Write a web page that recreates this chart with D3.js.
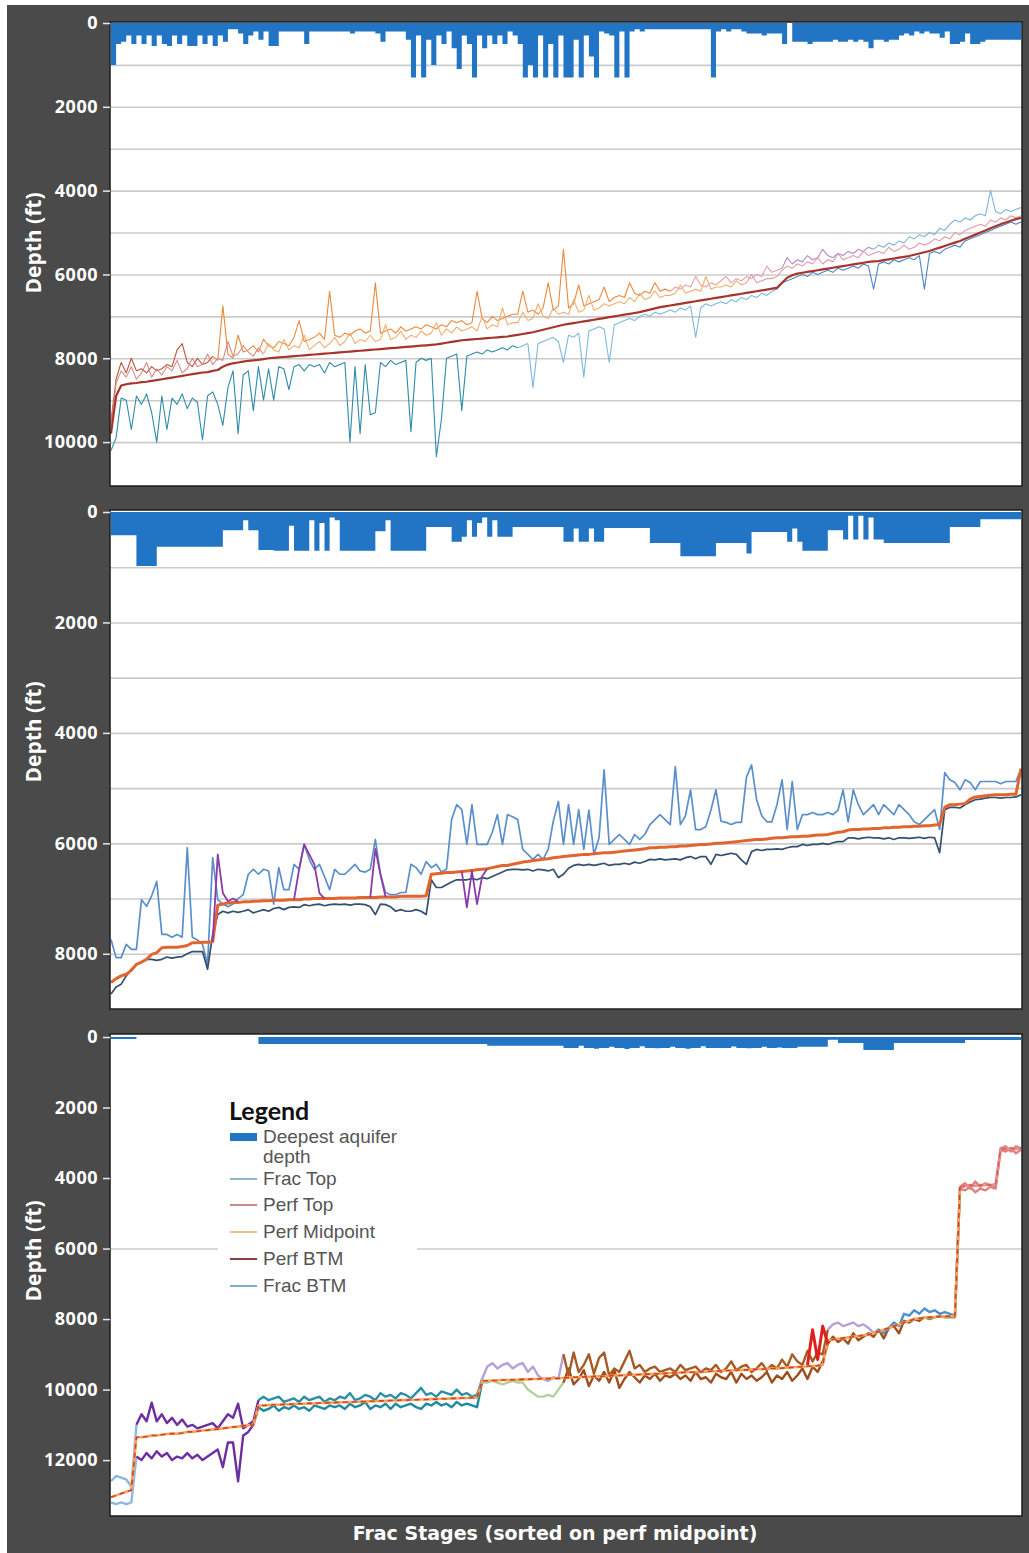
<!DOCTYPE html>
<html>
<head>
<meta charset="utf-8">
<script src="https://cdn.jsdelivr.net/npm/d3@7"></script>
<style>
  body { margin: 0; background: #fff; }
  svg { display: block; }
</style>
</head>
<body>
<div id="chart"></div>
<script>
// ---- panel 1 (top) : depth in ft per frac stage ----
const p1Aquifer = [
  1000, 500, 450, 300, 500, 300, 500, 300, 550, 300,
  500, 550, 300, 500, 300, 550, 550, 300, 500, 300,
  550, 300, 450, 150, 150, 250, 500, 300, 200, 400,
  200, 550, 550, 200, 200, 200, 200, 200, 500, 200,
  200, 200, 200, 200, 200, 200, 200, 250, 200, 200,
  200, 200, 250, 450, 200, 200, 200, 200, 400, 1300,
  300, 1300, 400, 1000, 300, 500, 200, 600, 1100, 300,
  500, 1300, 300, 600, 300, 500, 300, 500, 200, 300,
  500, 1300, 1000, 1300, 300, 1300, 500, 1300, 300, 1300,
  1300, 400, 1300, 300, 800, 1300, 200, 250, 300, 1300,
  200, 1300, 200, 150, 200, 150, 150, 150, 150, 150,
  150, 150, 150, 150, 150, 150, 150, 150, 1300, 200,
  150, 200, 150, 150, 200, 250, 250, 250, 300, 250,
  250, 250, 500, 0, 450, 450, 450, 500, 450, 450,
  450, 450, 400, 450, 450, 400, 450, 400, 450, 600,
  400, 400, 450, 400, 400, 300, 250, 300, 200, 250,
  200, 250, 250, 350, 200, 500, 500, 450, 250, 500,
  500, 450, 400, 400, 400, 400, 400, 400, 400, 3600
];
const p1FracTop = [
  9500, 8500, 8100, 8350, 8000, 8300, 8250, 8350, 8200, 8300,
  8250, 8150, 8200, 7800, 7650, 8100, 8200, 8000, 8150, 8100,
  7950, 8050, 6750, 7900, 8000, 7450, 7850, 7800, 7700, 7850,
  7550, 7700, 7750, 7600, 7650, 7700, 7500, 7100, 7600, 7550,
  7500, 7400, 7550, 6400, 7450, 7500, 7400, 7450, 7350, 7300,
  7400, 7350, 6200, 7400, 7350, 7300, 7400, 7250, 7350, 7300,
  7250, 7300, 7200, 7250, 7300, 7200, 7250, 7100, 7150, 7100,
  7200, 7150, 6400, 7050, 7150, 7000, 7100, 7050, 7000, 6950,
  6950, 6400, 6900, 6850, 6950, 6800, 6200, 6850, 6750, 5400,
  6800, 6700, 6250, 6750, 6700, 6650, 6600, 6300, 6650, 6550,
  6500, 6550, 6200, 6450, 6500, 6400, 6450, 6200, 6400, 6350,
  6400, 6300, 6350, 6250, 6300, 6050, 6250, 6300, 6200, 6250,
  6150, 6050, 6200, 6100, 6150, 6050, 6100, 6000, 6050, 5800,
  5950, 5900, 5850, 5600, 5750, 5650, 5700, 5550, 5650, 5600,
  5400, 5550, 5600, 5500, 5550, 5450, 5500, 5400, 5450, 5350,
  5400, 5300, 5350, 5250, 5300, 5200, 5250, 5100, 5150, 5050,
  5100, 5000, 5050, 4900, 4950, 4800, 4700, 4750, 4650, 4700,
  4600, 4550, 4600, 4000, 4500, 4550, 4450, 4500, 4450, 4400
];
const p1PerfTop = [
  9600, 8600, 8300, 8450, 8200, 8500, 8350, 8100, 8450, 8250,
  8400, 8200, 8300, 8050, 8350, 8250, 8000, 8200, 8150, 7900,
  8150, 8000, 8050, 7600, 7950, 7900, 7700, 7850, 7950, 7750,
  7900, 7650, 7800, 7850, 7550, 7800, 7700, 7750, 7450, 7800,
  7700, 7600, 7750, 7650, 7500, 7700, 7600, 7400, 7650, 7550,
  7600, 7450, 7600, 7550, 7200, 7550, 7500, 7350, 7550, 7450,
  7500, 7350, 7450, 7400, 7150, 7450, 7300, 7400, 7250, 7350,
  7300, 7250, 7350, 7000, 7300, 7200, 7250, 6800, 7200, 7150,
  7150, 6900, 7100, 7050, 6700, 7000, 7050, 6800, 6950, 6900,
  6950, 6600, 6900, 6850, 6500, 6850, 6800, 6700, 6750, 6700,
  6650, 6700, 6550, 6650, 6450, 6600, 6550, 6400, 6550, 6500,
  6500, 6450, 6250, 6450, 6400, 6350, 6400, 6050, 6350, 6300,
  6300, 6250, 6300, 6150, 6250, 6200, 6000, 6200, 6150, 6100,
  6100, 6050, 5900, 5800, 5850, 5750, 5800, 5700, 5750, 5600,
  5750, 5650, 5700, 5500, 5650, 5600, 5550, 5600, 5450, 5550,
  5500, 5450, 5500, 5350, 5450, 5400, 5300, 5400, 5350, 5250,
  5300, 5250, 5150, 5200, 5100, 5150, 5000, 5050, 4950, 4900,
  4850, 4800, 4850, 4700, 4750, 4650, 4700, 4600, 4650, 4600
];
const p1PerfMid = [
  9800, 8900, 8650, 8620, 8600, 8590, 8570, 8560, 8540, 8520,
  8500, 8480, 8460, 8440, 8420, 8400, 8380, 8360, 8340, 8330,
  8300, 8280, 8200, 8150, 8120, 8100, 8080, 8060, 8050, 8040,
  8020, 8000, 7990, 7980, 7970, 7960, 7950, 7940, 7930, 7920,
  7910, 7900, 7890, 7880, 7870, 7860, 7850, 7840, 7830, 7820,
  7810, 7800, 7790, 7780, 7770, 7760, 7750, 7740, 7730, 7720,
  7710, 7700, 7690, 7680, 7670, 7650, 7630, 7610, 7590, 7570,
  7560, 7550, 7540, 7530, 7520, 7510, 7500, 7490, 7480, 7460,
  7440, 7420, 7400, 7380, 7350, 7320, 7290, 7260, 7230, 7200,
  7180, 7160, 7140, 7120, 7100, 7080, 7060, 7040, 7020, 7000,
  6980, 6960, 6940, 6920, 6900, 6870, 6840, 6810, 6780, 6760,
  6740, 6720, 6700, 6680, 6660, 6640, 6620, 6600, 6580, 6560,
  6540, 6520, 6500, 6480, 6460, 6440, 6420, 6400, 6380, 6360,
  6340, 6320, 6200, 6080, 6020, 5980, 5960, 5940, 5920, 5900,
  5880, 5860, 5840, 5820, 5800, 5780, 5760, 5740, 5720, 5700,
  5690, 5680, 5660, 5640, 5620, 5600, 5580, 5560, 5530, 5500,
  5470, 5440, 5400, 5360, 5320, 5280, 5240, 5200, 5150, 5100,
  5050, 5000, 4950, 4900, 4850, 4800, 4760, 4720, 4680, 4650
];
const p1FracBtm = [
  10200, 9900, 8950, 9000, 9700, 8900, 9100, 8850, 9300, 10000,
  8900, 9700, 8950, 9100, 8850, 9200, 8950, 9050, 9950, 8900,
  8800, 9100, 9600, 8700, 8300, 9800, 8400, 8300, 9250, 8200,
  9000, 8250, 9000, 8200, 8250, 8750, 8200, 8150, 8300, 8150,
  8200, 8150, 8350, 8100, 8200, 8150, 8100, 10000, 8200, 9800,
  8150, 9350, 9300, 8100, 8200, 8050, 8150, 8100, 8050, 9750,
  8100, 8000, 8050, 8000, 10350, 9450, 8000, 7950, 7900, 9250,
  7950, 7900, 7850, 7900, 7800, 7850, 7800, 7750, 7800, 7700,
  7750, 7700, 7650, 8700, 7650, 7600, 7550, 7500, 7600, 8100,
  7450, 7500, 7400, 8450, 7350, 7300, 7250, 7300, 8100, 7200,
  7150, 7100, 7050, 7100, 7000, 6950, 7000, 6900, 6950, 6900,
  6850, 6900, 6800, 6850, 6750, 7500, 6800, 6700, 6750, 6700,
  6650, 6700, 6600, 6650, 6550, 6600, 6500, 6550, 6450, 6500,
  6400, 6350, 6200, 6150, 6100, 6050, 6000, 6050, 5950, 6000,
  5950, 5900, 5950, 5850, 5900, 5850, 5800, 5850, 5750, 5800,
  6350, 5750, 5700, 5750, 5650, 5700, 5650, 5600, 5650, 5550,
  6350, 5500, 5450, 5500, 5400, 5350, 5300, 5350, 5200, 5150,
  5100, 5050, 5000, 4950, 4900, 4850, 4800, 4750, 4800, 4750
];

// ---- panel 2 (middle) ----
const p2Aquifer = [
  420, 420, 420, 420, 420, 980, 980, 980, 980, 630,
  630, 630, 630, 630, 630, 630, 630, 630, 630, 630,
  630, 630, 330, 330, 330, 330, 150, 330, 330, 690,
  690, 690, 700, 700, 700, 250, 700, 700, 700, 150,
  700, 200, 700, 100, 150, 700, 700, 700, 700, 700,
  700, 700, 350, 350, 150, 700, 700, 700, 700, 700,
  700, 700, 270, 270, 270, 270, 270, 540, 540, 450,
  150, 450, 200, 100, 450, 150, 450, 450, 450, 270,
  270, 270, 270, 270, 270, 270, 270, 270, 270, 540,
  540, 300, 540, 540, 300, 540, 540, 290, 290, 290,
  290, 290, 290, 290, 290, 290, 560, 560, 560, 560,
  560, 560, 800, 800, 800, 800, 800, 800, 800, 560,
  560, 560, 560, 560, 560, 750, 360, 360, 360, 360,
  360, 360, 360, 540, 300, 540, 700, 700, 700, 700,
  700, 330, 330, 330, 500, 70, 500, 70, 500, 100,
  500, 500, 560, 560, 560, 560, 560, 560, 560, 560,
  560, 560, 560, 560, 560, 270, 270, 270, 270, 270,
  270, 130, 130, 130, 130, 130, 130, 130, 130, 130
];
const p2FracTop = [
  7740, 8070, 8070, 7830, 7920, 7920, 7020, 7140, 6950, 6690,
  7650, 7650, 7700, 7650, 7700, 6080, 7700, 7750, 7830, 8190,
  6260, 7020, 7100, 7150, 7100, 7000, 6930, 6560, 6470, 6560,
  6470, 6500, 7100, 6440, 6840, 6840, 6380, 6470, 6020, 6290,
  6470, 6380, 6600, 6840, 6470, 6560, 6560, 6470, 6380, 6500,
  6520, 6470, 5930, 6560, 6890, 6930, 6930, 6890, 6890, 6380,
  6440, 6560, 6330, 6440, 6380, 6520, 6470, 5570, 5300, 5390,
  6020, 5300, 6020, 6020, 6020, 5800, 5480, 6020, 5480, 5520,
  5570, 6110, 6200, 6290, 6200, 6290, 6110, 5600, 5240, 6020,
  5300, 6020, 5390, 6110, 5400, 6200, 5900, 4670, 6020, 5930,
  5840, 5930, 6020, 5840, 5930, 5840, 5660, 5570, 5480, 5570,
  5660, 4610, 5660, 5500, 5030, 5750, 5750, 5700, 5400, 5030,
  5600, 5620, 5660, 5620, 5620, 4800, 4580, 5210, 5500, 5610,
  5610, 5300, 4850, 5750, 4880, 5750, 5480, 5480, 5440, 5480,
  5480, 5440, 5480, 5400, 5030, 5610, 5030, 5300, 5480, 5390,
  5300, 5480, 5300, 5390, 5480, 5300, 5390, 5480, 5610, 5660,
  5570, 5480, 5390, 5750, 4720, 4850, 4900, 5030, 4850, 4900,
  5030, 4880, 4880, 4880, 4880, 4920, 4880, 4880, 4880, 4650
];
const p2PerfMid = [
  8520, 8450, 8400, 8370, 8300, 8190, 8150, 8100, 8010, 7980,
  7890, 7880, 7880, 7880, 7870, 7850, 7800, 7800, 7790, 7790,
  7780, 7120, 7100, 7080, 7070, 7070, 7060, 7060, 7050, 7050,
  7040, 7040, 7030, 7030, 7030, 7020, 7020, 7020, 7010, 7010,
  7000, 7000, 7000, 7000, 7000, 6990, 6990, 6990, 6990, 6980,
  6980, 6980, 6980, 6970, 6970, 6970, 6970, 6960, 6960, 6960,
  6960, 6960, 6950, 6560, 6550, 6540, 6530, 6530, 6520, 6510,
  6500, 6490, 6480, 6470, 6460, 6440, 6420, 6400, 6400, 6380,
  6360, 6340, 6330, 6310, 6300, 6290, 6280, 6260, 6250, 6240,
  6230, 6220, 6210, 6200, 6200, 6190, 6180, 6170, 6170, 6160,
  6150, 6140, 6130, 6120, 6110, 6100, 6080, 6080, 6070, 6070,
  6060, 6060, 6050, 6050, 6040, 6030, 6020, 6020, 6010, 6000,
  6000, 5990, 5980, 5970, 5960, 5950, 5940, 5930, 5930, 5920,
  5910, 5900, 5900, 5890, 5880, 5880, 5870, 5870, 5860, 5850,
  5850, 5840, 5820, 5800, 5790, 5760, 5750, 5750, 5740, 5740,
  5730, 5730, 5720, 5720, 5710, 5710, 5700, 5700, 5690, 5690,
  5680, 5680, 5670, 5660, 5350, 5300, 5300, 5290, 5280, 5200,
  5160, 5150, 5140, 5130, 5120, 5120, 5120, 5110, 5110, 4650
];
const p2FracBtm = [
  8730, 8600, 8550, 8400, 8280, 8200, 8150, 8100, 8100, 8120,
  8100, 8060, 8080, 8060, 8050, 8000, 7960, 7960, 7960, 8280,
  7650, 7290, 7230, 7260, 7230, 7250, 7230, 7200, 7260, 7230,
  7200, 7230, 7180, 7160, 7200, 7160, 7150, 7160, 7110, 7130,
  7110, 7100, 7130, 7110, 7100, 7110, 7100, 7120, 7100, 7100,
  7110, 7150, 7290, 7100, 7110, 7150, 7230, 7200, 7230, 7230,
  7200, 7230, 7290, 6660, 6800, 6800, 6750, 6700, 6660, 6660,
  6660, 6640, 6660, 6620, 6640, 6600, 6560, 6520, 6480, 6470,
  6470, 6480, 6470, 6500, 6470, 6480, 6500, 6470, 6620, 6560,
  6450, 6400, 6380, 6400, 6380, 6400, 6380, 6360, 6400, 6380,
  6380, 6360, 6380, 6340, 6360, 6330, 6290, 6300, 6280, 6300,
  6290, 6280, 6300, 6260, 6240, 6280, 6240, 6240, 6380, 6200,
  6220, 6200, 6180, 6200, 6300, 6380, 6150, 6110, 6130, 6110,
  6110, 6100, 6110, 6080, 6060, 6060, 6020, 6040, 6020, 6020,
  6000, 6020, 5990, 5970, 5970, 5900, 5900, 5920, 5900, 5890,
  5900, 5900, 5920, 5900, 5930, 5900, 5900, 5910, 5900, 5890,
  5910, 5890, 5900, 6170, 5390, 5350, 5350, 5360, 5300, 5250,
  5210, 5200, 5180, 5170, 5170, 5180, 5170, 5170, 5160, 5120
];
// perf top only where it parts from the midpoint: [stage, depth]
const p2PerfTop = [
  [[20, 7780], [21, 6200], [22, 6900], [23, 7050], [24, 7000], [25, 7060]],
  [[36, 7020], [37, 6470], [38, 6020], [39, 6200], [40, 6380], [41, 6900], [42, 7000]],
  [[51, 6980], [52, 6100], [53, 6560], [54, 6970]],
  [[69, 6510], [70, 7160], [71, 6500], [72, 7100], [73, 6600], [74, 6460]]
];

// ---- panel 3 (bottom) ----
const p3Aquifer = [
  60, 60, 60, 60, 60, 0, 0, 0, 0, 0,
  0, 0, 0, 0, 0, 0, 0, 0, 0, 0,
  0, 0, 0, 0, 0, 0, 0, 0, 0, 200,
  200, 200, 200, 200, 200, 200, 200, 200, 200, 200,
  200, 200, 200, 200, 200, 200, 200, 200, 200, 200,
  200, 200, 200, 200, 200, 200, 200, 200, 200, 200,
  200, 200, 200, 200, 200, 200, 200, 200, 200, 200,
  200, 200, 200, 200, 250, 250, 250, 250, 250, 250,
  250, 250, 250, 250, 250, 250, 250, 250, 250, 310,
  310, 310, 250, 310, 310, 330, 310, 310, 280, 310,
  310, 340, 310, 310, 260, 310, 310, 320, 310, 310,
  280, 310, 310, 330, 310, 310, 260, 310, 310, 310,
  310, 310, 270, 310, 310, 320, 310, 310, 280, 310,
  310, 300, 310, 310, 310, 280, 280, 280, 280, 280,
  280, 80, 80, 170, 170, 170, 170, 170, 370, 370,
  370, 370, 370, 370, 170, 170, 170, 170, 170, 170,
  170, 170, 170, 170, 170, 170, 170, 170, 85, 85,
  85, 85, 85, 85, 85, 85, 85, 85, 85, 85
];
const p3FracTop = [
  12600, 12450, 12500, 12550, 12750, 11000, 10700, 10900, 10370, 10900,
  10700, 10950, 10800, 11000, 10850, 11050, 11000, 11100, 11050, 11000,
  10950, 11100, 10900, 10700, 10800, 10400, 11100, 11000, 10900, 10300,
  10200, 10300, 10250, 10200, 10350, 10300, 10250, 10350, 10200, 10300,
  10250, 10200, 10350, 10250, 10300, 10200, 10250, 10100, 10300, 10250,
  10150, 10200, 10300, 10100, 10200, 10150, 10250, 10100, 10150, 10250,
  10100, 9950, 10150, 10100, 10200, 10050, 10100, 10150, 10000, 10150,
  10100, 10200, 10150, 9700, 9350, 9250, 9400, 9300, 9250, 9400,
  9300, 9250, 9500, 9350, 9600, 9700, 9750, 9650, 9700, 9000,
  9600, 8950, 9500, 9300, 9000, 9550, 9100, 8950, 9600, 9400,
  9500, 9200, 8900, 9400, 9300, 9500, 9400, 9350, 9500, 9450,
  9400, 9500, 9300, 9450, 9400, 9350, 9500, 9400, 9450, 9300,
  9500, 9400, 9200, 9450, 9350, 9300, 9500, 9400, 9250, 9450,
  9300, 9400, 9150, 9350, 9000, 9200, 9300, 8900, 9200, 8950,
  9000, 8300, 8150, 8100, 8200, 8150, 8100, 8200, 8150, 8250,
  8400, 8300, 8400, 8250, 8100, 8200, 7850, 7900, 7750, 7850,
  7700, 7800, 7750, 7850, 7800, 7850, 7900, 4250, 4150, 4300,
  4100, 4250, 4150, 4200, 4250, 3150, 3100, 3250, 3100, 3150
];
const p3PerfMid = [
  13050, 13000, 12950, 12900, 12850, 11350, 11350, 11330, 11300, 11300,
  11280, 11260, 11250, 11250, 11230, 11200, 11200, 11180, 11160, 11150,
  11130, 11120, 11100, 11080, 11060, 11050, 11030, 11010, 11000, 10450,
  10450, 10440, 10430, 10430, 10420, 10420, 10410, 10400, 10400, 10390,
  10390, 10380, 10380, 10370, 10370, 10360, 10360, 10350, 10350, 10340,
  10340, 10330, 10330, 10320, 10320, 10310, 10310, 10300, 10300, 10290,
  10290, 10280, 10280, 10270, 10270, 10260, 10260, 10250, 10250, 10240,
  10240, 10230, 10230, 9750, 9750, 9740, 9740, 9730, 9730, 9720,
  9720, 9710, 9710, 9700, 9700, 9690, 9690, 9680, 9680, 9670,
  9660, 9650, 9650, 9640, 9640, 9630, 9620, 9620, 9610, 9600,
  9600, 9590, 9580, 9580, 9570, 9560, 9560, 9550, 9550, 9540,
  9530, 9530, 9520, 9510, 9510, 9500, 9500, 9490, 9480, 9480,
  9470, 9460, 9460, 9450, 9440, 9440, 9430, 9420, 9420, 9410,
  9400, 9400, 9390, 9380, 9370, 9360, 9350, 9340, 9330, 9320,
  9300, 8600, 8580, 8560, 8540, 8520, 8500, 8480, 8460, 8440,
  8400, 8350, 8300, 8250, 8200, 8150, 8100, 8050, 8000, 7980,
  7960, 7950, 7940, 7930, 7920, 7920, 7920, 4250, 4230, 4200,
  4220, 4200, 4190, 4200, 4180, 3180, 3170, 3160, 3170, 3160
];
const p3FracBtm = [
  13200, 13250, 13200, 13250, 13200, 11900, 12000, 11800, 11950, 11750,
  11900, 11800, 12000, 11900, 11950, 11800, 11950, 11850, 12000, 11900,
  11800, 11700, 12200, 11500, 11500, 12600, 11300, 11200, 11000, 10500,
  10600, 10550, 10450, 10600, 10500, 10550, 10450, 10550, 10500, 10600,
  10450, 10500, 10550, 10450, 10500, 10450, 10550, 10400, 10500, 10450,
  10350, 10550, 10450, 10500, 10400, 10550, 10400, 10500, 10450, 10400,
  10500, 10550, 10400, 10450, 10350, 10450, 10400, 10500, 10350, 10450,
  10400, 10450, 10500, 9800, 9800, 9750, 9800, 9850, 9800, 9750,
  9800, 9800, 10000, 10100, 10200, 10200, 10150, 10200, 10000, 9800,
  9400, 9850, 9700, 9450, 9900, 9600, 9750, 9500, 9800, 9450,
  9950, 9700, 9500, 9650, 9800, 9600, 9700, 9550, 9750, 9600,
  9650, 9550, 9700, 9600, 9750, 9500, 9700, 9650, 9800, 9550,
  9650, 9700, 9500, 9800, 9550, 9700, 9600, 9750, 9650, 9500,
  9800, 9600, 9700, 9500, 9750, 9600, 9400, 9700, 9350, 9500,
  9200, 8700, 8500, 8650, 8550, 8700, 8400, 8600, 8500, 8400,
  8500, 8300, 8550, 8250, 8200, 8400, 8050, 8100, 8000, 8050,
  7950, 8000, 7950, 7900, 7950, 7950, 7950, 4300, 4350, 4250,
  4400, 4300, 4350, 4250, 4300, 3200, 3250, 3150, 3300, 3200
];
const p3PerfTop = [
  [[137, 9300], [138, 8300], [139, 9150], [140, 8200], [141, 8700]]
];

const depthTicks1 = [0, 2000, 4000, 6000, 8000, 10000];
const depthTicks2 = [0, 2000, 4000, 6000, 8000];
const depthTicks3 = [0, 2000, 4000, 6000, 8000, 10000, 12000];
const legendLabels = [['Deepest aquifer', 'depth'], ['Frac Top'], ['Perf Top'], ['Perf Midpoint'], ['Perf BTM'], ['Frac BTM']];

// ---- layout ----
const W = 1029, H = 1553;
const plotLeft = 110, plotRight = 1022;

const svg = d3.select('#chart').append('svg')
  .attr('width', W)
  .attr('height', H);

svg.append('rect')
  .attr('x', 7).attr('y', 5)
  .attr('width', W - 7).attr('height', H - 5)
  .attr('fill', '#4a4a4a');

const panels = [
  {
    top: 22, bottom: 486, y0: 23, y1: 484, maxDepth: 11000,
    ticks: depthTicks1, grid: d3.range(1000, 11000, 1000),
    aquifer: p1Aquifer,
    series: [
      { values: p1FracBtm, width: 1.1, colours: [[0, 80, '#2f8ba8'], [80, 132, '#7cb9de'], [132, 180, '#4b87c9']] },
      { values: p1FracTop, width: 1.1, colours: [[0, 20, '#b8553a'], [20, 110, '#ea8a3c'], [110, 132, '#e6a0a6'], [132, 150, '#b08ccb'], [150, 180, '#7fb3dd']] },
      { values: p1PerfTop, width: 1.1, colours: [[0, 30, '#d98a8a'], [30, 125, '#f3ad6e'], [125, 180, '#e39aa8']] },
      { values: p1PerfMid, width: 2.2, colours: [[0, 180, '#a8352c']] }
    ],
    labelY: 243
  },
  {
    top: 510, bottom: 1009, y0: 512, y1: 1009, maxDepth: 9000,
    ticks: depthTicks2, grid: d3.range(1000, 9000, 1000),
    aquifer: p2Aquifer,
    series: [
      { values: p2FracTop, width: 1.7, colours: [[0, 180, '#5b8fcb']] },
      { values: p2FracBtm, width: 1.7, colours: [[0, 180, '#34506e']] },
      { values: p2PerfMid, width: 3, colours: [[0, 180, '#e2652f']] }
    ],
    sparse: [{ segments: p2PerfTop, width: 1.8, colour: '#8b3aa8' }],
    labelY: 732
  },
  {
    top: 1034, bottom: 1516, y0: 1037, y1: 1513, maxDepth: 13500,
    ticks: depthTicks3, grid: [6000],
    aquifer: p3Aquifer,
    series: [
      { values: p3FracBtm, width: 2.4, colours: [[0, 5, '#8fb8dc'], [5, 29, '#6c2ea0'], [29, 73, '#1f8aa0'], [73, 89, '#b5cf98'], [89, 160, '#9e4d1c'], [160, 167, '#6e9b3c'], [167, 180, '#e08080']] },
      { values: p3FracTop, width: 2.4, colours: [[0, 5, '#8fb8dc'], [5, 29, '#6c2ea0'], [29, 73, '#2a8fa8'], [73, 89, '#b7a0d6'], [89, 141, '#a65a24'], [141, 150, '#b7a0d6'], [150, 167, '#4a8fd0'], [167, 180, '#e08080']] },
      { values: p3PerfMid, width: 2.6, colours: [[0, 167, '#f5a55a'], [167, 180, '#e89090']] },
      { values: p3PerfMid, width: 1.6, dash: '5,4', colours: [[0, 167, '#d6402a'], [167, 180, '#d86060']] }
    ],
    sparse: [{ segments: p3PerfTop, width: 3, colour: '#e0201c' }],
    labelY: 1251
  }
];

panels.forEach((p, pi) => {
  const n = p.aquifer.length;
  const x = d3.scaleLinear().domain([0, n - 1]).range([plotLeft + 1, plotRight - 1]);
  const y = d3.scaleLinear().domain([0, p.maxDepth]).range([p.y0, p.y1]);

  const clipId = 'clip' + pi;
  svg.append('clipPath').attr('id', clipId)
    .append('rect')
    .attr('x', plotLeft).attr('y', p.top)
    .attr('width', plotRight - plotLeft).attr('height', p.bottom - p.top);

  svg.append('rect')
    .attr('x', plotLeft).attr('y', p.top)
    .attr('width', plotRight - plotLeft).attr('height', p.bottom - p.top)
    .attr('fill', '#fff');

  const g = svg.append('g').attr('clip-path', `url(#${clipId})`);

  // grid lines
  g.append('g')
    .attr('transform', `translate(${plotLeft},0)`)
    .call(d3.axisLeft(y).tickValues(p.grid).tickSize(-(plotRight - plotLeft)).tickFormat(''))
    .call(a => a.select('.domain').remove())
    .call(a => a.selectAll('line').attr('stroke', '#cbcbcb').attr('stroke-width', 1.6));

  // deepest aquifer depth
  g.append('path')
    .datum(p.aquifer)
    .attr('d', d3.area().curve(d3.curveStepAfter).x((d, i) => x(i)).y0(y(0)).y1(d => y(d)))
    .attr('fill', '#2274c4');

  const line = d3.line().x(d => x(d[0])).y(d => y(d[1]));

  p.series.forEach(s => {
    s.colours.forEach(([start, end, colour]) => {
      const pts = s.values.slice(start, Math.min(end + 1, s.values.length)).map((v, k) => [start + k, v]);
      g.append('path')
        .datum(pts)
        .attr('d', line)
        .attr('fill', 'none')
        .attr('stroke', colour)
        .attr('stroke-width', s.width)
        .attr('stroke-linejoin', 'round')
        .attr('stroke-dasharray', s.dash || null);
    });
  });

  (p.sparse || []).forEach(s => {
    s.segments.forEach(seg => {
      g.append('path')
        .datum(seg)
        .attr('d', line)
        .attr('fill', 'none')
        .attr('stroke', s.colour)
        .attr('stroke-width', s.width)
        .attr('stroke-linejoin', 'round');
    });
  });

  // frame
  svg.append('rect')
    .attr('x', plotLeft).attr('y', p.top)
    .attr('width', plotRight - plotLeft).attr('height', p.bottom - p.top)
    .attr('fill', 'none')
    .attr('stroke', '#1c1c1c')
    .attr('stroke-width', 1.5);

  // y axis
  svg.append('g')
    .attr('transform', `translate(${plotLeft},0)`)
    .call(d3.axisLeft(y).tickValues(p.ticks).tickSize(7).tickPadding(5).tickFormat(d3.format('d')))
    .call(a => a.select('.domain').remove())
    .call(a => a.selectAll('line').attr('stroke', '#e8e8e8').attr('stroke-width', 1.5))
    .call(a => a.selectAll('text')
      .attr('fill', '#fff')
      .style('font-family', '"Open Sans", sans-serif')
      .style('font-weight', 'bold')
      .style('font-size', '18px')
      .style('letter-spacing', '0.5px'));

  svg.append('text')
    .attr('transform', `translate(41,${p.labelY}) rotate(-90)`)
    .attr('text-anchor', 'middle')
    .attr('fill', '#fff')
    .style('font-family', '"Open Sans", sans-serif')
    .style('font-weight', 'bold')
    .style('font-size', '21px')
    .text('Depth (ft)');
});

// x axis title
svg.append('text')
  .attr('x', 555).attr('y', 1540)
  .attr('text-anchor', 'middle')
  .attr('fill', '#fff')
  .style('font-family', '"DejaVu Sans", sans-serif')
  .style('font-weight', 'bold')
  .style('font-size', '19px')
  .text('Frac Stages (sorted on perf midpoint)');

// legend
const legendColours = ['#2274c4', '#8db5c8', '#c98a8a', '#f2c08e', '#8a4040', '#7fb0c8'];
const legend = svg.append('g');
legend.append('rect')
  .attr('x', 218).attr('y', 1093)
  .attr('width', 199).attr('height', 207)
  .attr('fill', '#fff');
legend.append('text')
  .attr('x', 229).attr('y', 1120)
  .attr('fill', '#111')
  .style('font-family', 'Lato, sans-serif')
  .style('font-weight', 'bold')
  .style('font-size', '25px')
  .text('Legend');

const itemBaselines = [1143, 1185, 1211, 1238, 1265, 1292];
legendLabels.forEach((lines, i) => {
  const base = itemBaselines[i];
  if (i === 0) {
    legend.append('rect')
      .attr('x', 230).attr('y', base - 10)
      .attr('width', 27).attr('height', 8)
      .attr('fill', legendColours[i]);
  } else {
    legend.append('line')
      .attr('x1', 230).attr('x2', 257)
      .attr('y1', base - 6).attr('y2', base - 6)
      .attr('stroke', legendColours[i])
      .attr('stroke-width', 2);
  }
  const t = legend.append('text')
    .attr('x', 263).attr('y', base)
    .attr('fill', '#555')
    .style('font-family', '"Liberation Sans", Arial, sans-serif')
    .style('font-size', '19px');
  lines.forEach((l, k) => {
    t.append('tspan').attr('x', 263).attr('dy', k === 0 ? 0 : 20).text(l);
  });
});
</script>
</body>
</html>
